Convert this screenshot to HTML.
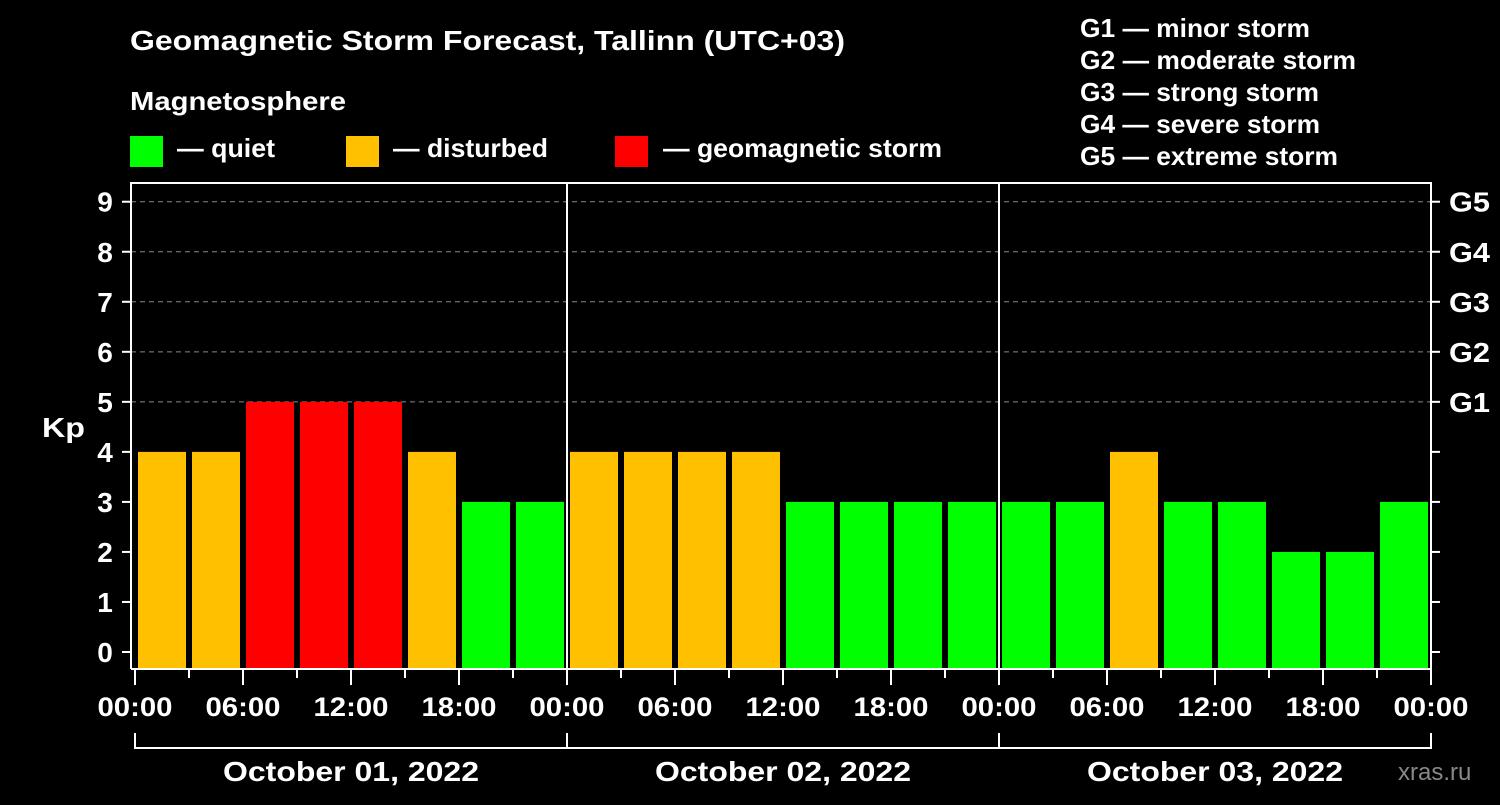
<!DOCTYPE html>
<html><head><meta charset="utf-8"><style>
body{margin:0;background:#000;width:1500px;height:800px;overflow:hidden;font-family:"Liberation Sans",sans-serif}
text{font-family:"Liberation Sans",sans-serif;font-weight:bold;fill:#fff}
</style></head><body>
<svg id="c" width="1500" height="800" xmlns="http://www.w3.org/2000/svg">
<text x="130" y="50" font-size="28" textLength="715" lengthAdjust="spacingAndGlyphs">Geomagnetic Storm Forecast, Tallinn (UTC+03)</text>
<text x="130" y="110" font-size="26" textLength="216" lengthAdjust="spacingAndGlyphs">Magnetosphere</text>
<rect x="130" y="136" width="33" height="31" fill="#00ff00"/>
<text x="177" y="157" font-size="26" textLength="98" lengthAdjust="spacingAndGlyphs">— quiet</text>
<rect x="346" y="136" width="33" height="31" fill="#ffc000"/>
<text x="393" y="157" font-size="26" textLength="155" lengthAdjust="spacingAndGlyphs">— disturbed</text>
<rect x="615" y="136" width="33" height="31" fill="#ff0000"/>
<text x="663" y="157" font-size="26" textLength="279" lengthAdjust="spacingAndGlyphs">— geomagnetic storm</text>
<g font-size="26">
<text x="1080" y="37" textLength="230" lengthAdjust="spacingAndGlyphs">G1 — minor storm</text>
<text x="1080" y="69" textLength="276" lengthAdjust="spacingAndGlyphs">G2 — moderate storm</text>
<text x="1080" y="101" textLength="239" lengthAdjust="spacingAndGlyphs">G3 — strong storm</text>
<text x="1080" y="133" textLength="240" lengthAdjust="spacingAndGlyphs">G4 — severe storm</text>
<text x="1080" y="165" textLength="258" lengthAdjust="spacingAndGlyphs">G5 — extreme storm</text>
</g>
<text x="42" y="437" font-size="28" textLength="43" lengthAdjust="spacingAndGlyphs">Kp</text>
<text x="1398" y="780" font-size="24" style="fill:#888;font-weight:normal">xras.ru</text>
<g id="g"></g>
</svg>
<script>
const days=["October 01, 2022","October 02, 2022","October 03, 2022"];
const kpValues=[4,4,5,5,5,4,3,3, 4,4,4,4,3,3,3,3, 3,3,4,3,3,2,2,3];
const yTicks=[0,1,2,3,4,5,6,7,8,9];
const gLabels=["G1","G2","G3","G4","G5"];
const xLabels=["00:00","06:00","12:00","18:00"];
const NS="http://www.w3.org/2000/svg",grp=document.getElementById('g');
const x0=135,pxH=18,yS=k=>652-50.03*k,base=668;
const X=h=>x0+h*pxH;
function mk(t,a,txt){const e=document.createElementNS(NS,t);for(const k in a)e.setAttribute(k,a[k]);if(txt!=null)e.textContent=txt;grp.appendChild(e);return e;}
const pLeft=131,pRight=1431,pTop=183;
yTicks.forEach(k=>{if(k>=5){const l=mk('line',{x1:pLeft,x2:pRight,y1:yS(k),y2:yS(k),stroke:'#888','stroke-dasharray':'5,4','stroke-width':1});

}
const t=mk('line',{x1:pLeft-9,x2:pLeft,y1:yS(k),y2:yS(k),stroke:'#fff','stroke-width':2});


const lb=mk('text',{x:105,y:yS(k)+10,'font-size':28,'text-anchor':'middle'},String(k));


const rt=mk('line',{x1:pRight,x2:pRight+9,y1:yS(k),y2:yS(k),stroke:'#fff','stroke-width':2});


if(k>=5){const gl=mk('text',{x:1449,y:yS(k)+10,'font-size':28,textLength:41,lengthAdjust:'spacingAndGlyphs'},gLabels[k-5]);

}
});
kpValues.forEach((v,i)=>{const c=v>=5?'#ff0000':v==4?'#ffc000':'#00ff00';
const r=mk('rect',{x:X(i*3)+3,y:yS(v),width:48,height:base-yS(v),fill:c});

});
const f=mk('path',{d:`M${pLeft} ${base+1}V${pTop}H${pRight}V${base+1}H${pLeft}`,fill:'none',stroke:'#fff','stroke-width':2});


days.forEach((d,di)=>{const dx=X(di*24);
if(di>0){const s=mk('line',{x1:dx,x2:dx,y1:pTop,y2:base,stroke:'#fff','stroke-width':2});

}
const br=mk('path',{d:`M${dx} 733V748H${X(di*24+24)}V733`,fill:'none',stroke:'#fff','stroke-width':2});


const dl=mk('text',{x:dx+216,y:781,'font-size':28,'text-anchor':'middle',textLength:256,lengthAdjust:'spacingAndGlyphs'},d);


for(let h=0;h<24;h+=3){const major=h%6==0;
const tk=mk('line',{x1:X(di*24+h),x2:X(di*24+h),y1:base,y2:major?685:678,stroke:'#fff','stroke-width':2});

}
});
for(let i=0;i<=12;i++){const lb=mk('text',{x:X(i*6),y:716,'font-size':27,'text-anchor':'middle',textLength:75,lengthAdjust:'spacingAndGlyphs'},xLabels[i%4]);


if(i==12){const tk=mk('line',{x1:X(72),x2:X(72),y1:base,y2:685,stroke:'#fff','stroke-width':2});

}}
</script>
</body></html>
